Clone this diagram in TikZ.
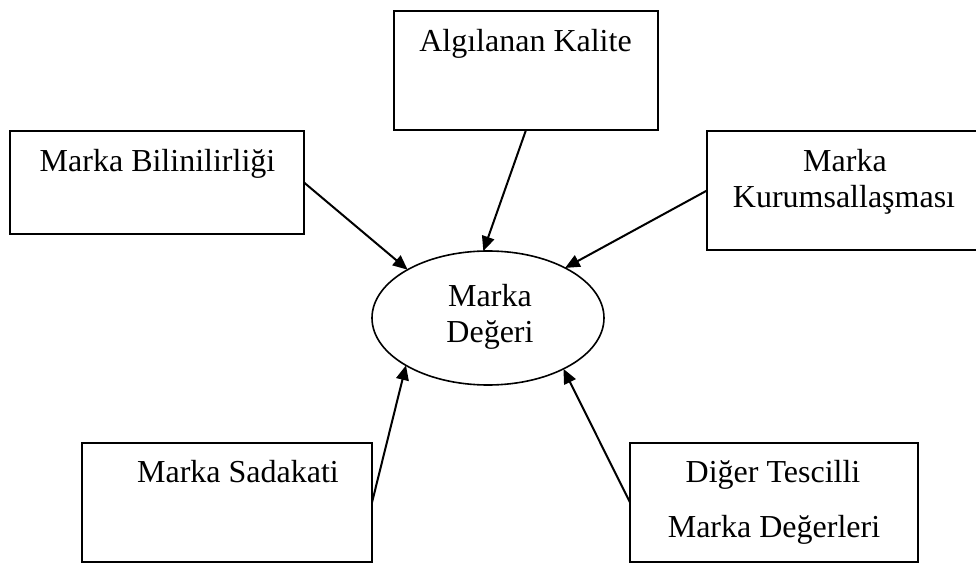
\documentclass[tikz,border=0pt]{standalone}
\usepackage{fontspec}
\setmainfont{Liberation Serif}
\usetikzlibrary{arrows.meta,shapes.geometric}
\tikzset{
 box/.style={draw, line width=1.6pt, inner sep=0pt, outer sep=0pt},
 val/.style={draw, ellipse, line width=1.2pt, inner sep=0pt, outer sep=0pt,
   minimum width=232*0.75pt, minimum height=134*0.75pt},
 lbl/.style={anchor=base, inner sep=0pt, font=\fontsize{24}{27}\selectfont},
 link/.style={line width=1.5pt, -{Triangle[length=11pt,width=9.5pt]}}
}
\begin{document}
\begin{tikzpicture}[x=0.75pt,y=-0.75pt]
\useasboundingbox (0,0) rectangle (976,563);
% boxes
\node[box, minimum width=264*0.75pt, minimum height=119*0.75pt] (A) at (526,70.5) {};
\node[box, minimum width=294*0.75pt, minimum height=103*0.75pt] (B) at (157,182.5) {};
\node[box, minimum width=273*0.75pt, minimum height=119*0.75pt] (C) at (843.5,190.5) {};
\node[box, minimum width=290*0.75pt, minimum height=119*0.75pt] (E) at (227,502.5) {};
\node[box, minimum width=288*0.75pt, minimum height=119*0.75pt] (D) at (774,502.5) {};
\node[val] (M) at (488,318) {};
% texts
\node[lbl] (tA) at (525.5,52) {Algılanan Kalite};
\node[lbl] (tB) at (157.5,172) {Marka Bilinilirliği};
\node[lbl] (tC1) at (845,172) {Marka};
\node[lbl] (tC2) at (844,208) {Kurumsallaşması};
\node[lbl] (tM1) at (490,307) {Marka};
\node[lbl] (tM2) at (490,343) {Değeri};
\node[lbl] (tE) at (238,482) {Marka Sadakati};
\node[lbl] (tD1) at (773,482) {Diğer Tescilli};
\node[lbl] (tD2) at (774,537) {Marka Değerleri};
% connectors
\draw[link] (B.east) -- (M.149.5);
\draw[link] (A.south) -- (M.94);
\draw[link] (C.west) -- (M.33.5);
\draw[link] (E.east) -- (M.210);
\draw[link] (D.west) -- (M.326.5);
\end{tikzpicture}
\end{document}
